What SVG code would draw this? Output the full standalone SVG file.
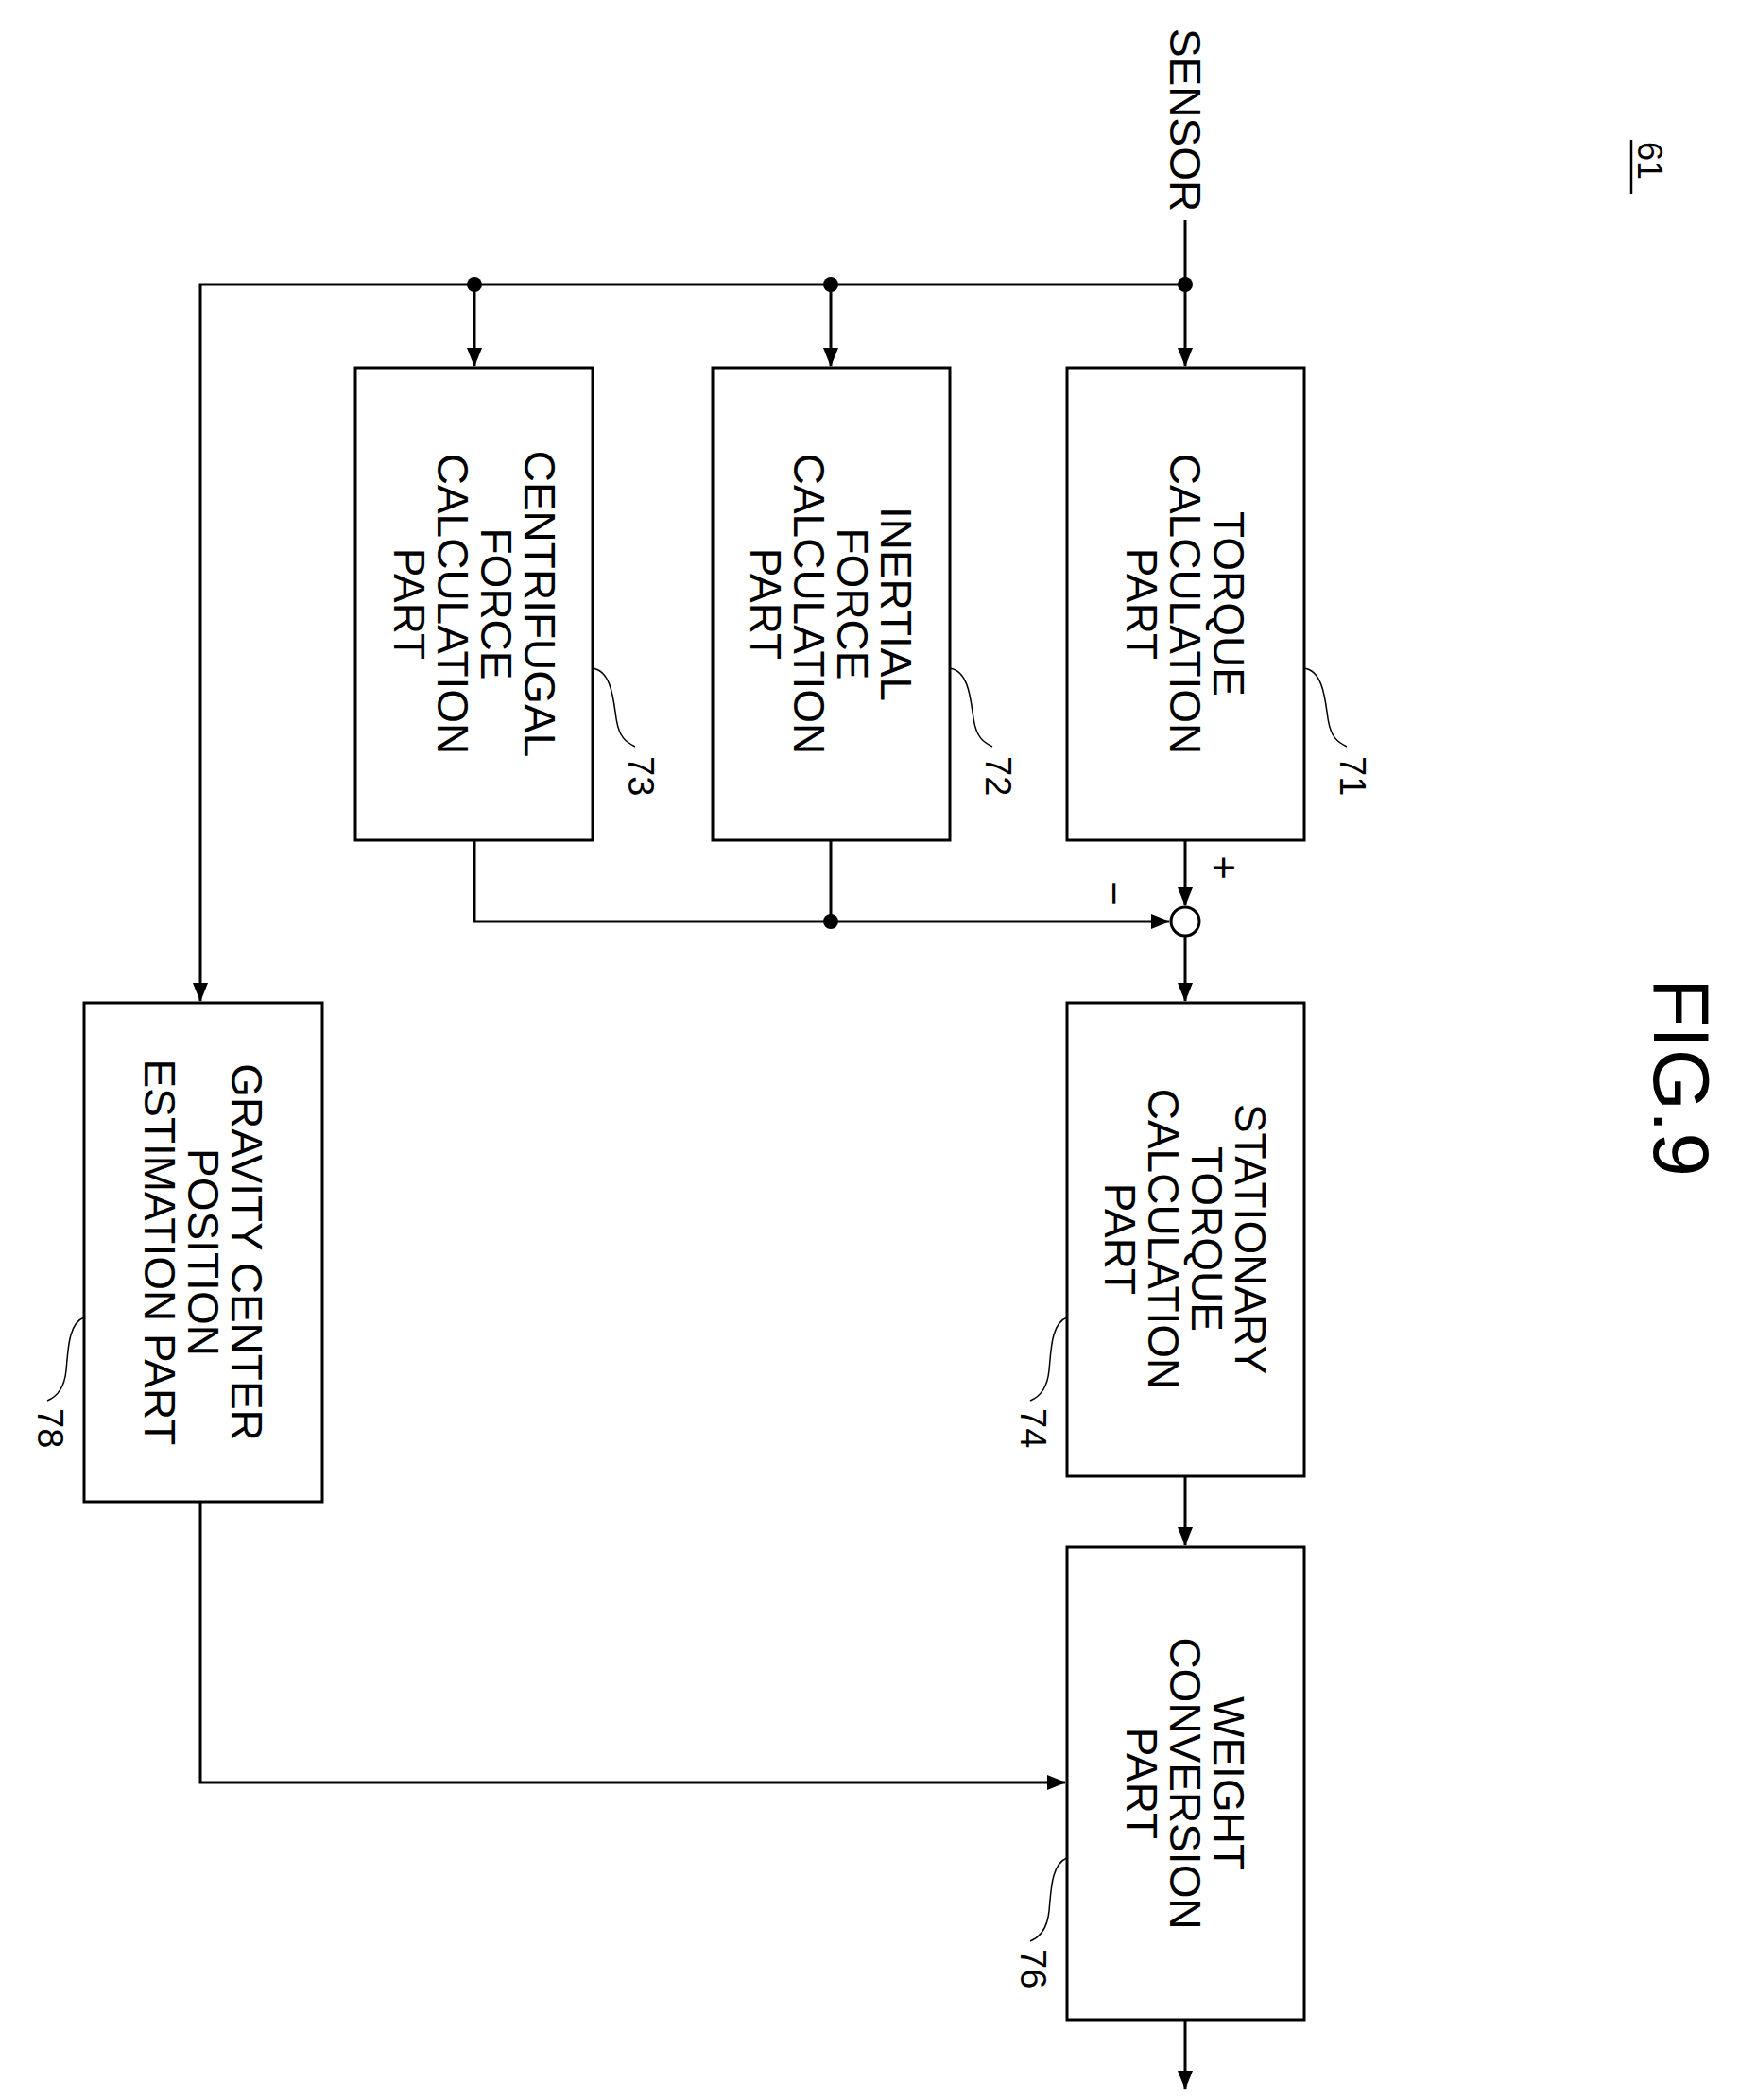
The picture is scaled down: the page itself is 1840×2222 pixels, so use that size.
<svg xmlns="http://www.w3.org/2000/svg" width="1840" height="2222" viewBox="0 0 1840 2222">
<style>
.b{fill:#fff;stroke:#000;stroke-width:3}
.l{fill:none;stroke:#000;stroke-width:3}
.t{font-family:"Liberation Sans",Arial,sans-serif;font-size:46px;text-anchor:middle}
.n{font-family:"Liberation Sans",Arial,sans-serif;font-size:38px}
.ld{fill:none;stroke:#000;stroke-width:1.5}
</style>
<defs><marker id="a" markerWidth="20" markerHeight="16" refX="19" refY="8" orient="auto" markerUnits="userSpaceOnUse" viewBox="0 0 20 16"><path d="M0,0 L20,8 L0,16 z"/></marker></defs>
<rect width="1840" height="2222" fill="#fff"/>
<g id="connectors">
<path class="l" d="M1254,233 V387" marker-end="url(#a)"/>
<path class="l" d="M1254,301 H212 V1059" marker-end="url(#a)"/>
<path class="l" d="M879,301 V387" marker-end="url(#a)"/>
<path class="l" d="M502,301 V387" marker-end="url(#a)"/>
<path class="l" d="M1254,889 V958" marker-end="url(#a)"/>
<path class="l" d="M502,889 V975 H1237" marker-end="url(#a)"/>
<path class="l" d="M879,889 V975"/>
<path class="l" d="M1254,990 V1059" marker-end="url(#a)"/>
<path class="l" d="M1254,1562 V1635" marker-end="url(#a)"/>
<path class="l" d="M1254,2137 V2210" marker-end="url(#a)"/>
<path class="l" d="M212,1589 V1886 H1127" marker-end="url(#a)"/>
<circle cx="1254" cy="301" r="8"/><circle cx="879" cy="301" r="8"/><circle cx="502" cy="301" r="8"/><circle cx="879" cy="975" r="8"/>
<circle cx="1254" cy="975" r="15" class="b"/>
<text class="n" transform="translate(1280,918) rotate(90)" text-anchor="middle" style="font-size:44px">+</text>
<text class="n" transform="translate(1164,945) rotate(90)" text-anchor="middle" style="font-size:44px">−</text>
</g>
<text class="t" transform="translate(1238,127) rotate(90)">SENSOR</text>
<g id="n71"><rect class="b" x="1129" y="389" width="251" height="500"/>
<text class="t" transform="translate(1254,639) rotate(90)"><tspan x="0" y="-30">TORQUE</tspan><tspan x="0" dy="46">CALCULATION</tspan><tspan x="0" dy="46">PART</tspan></text>
<path class="ld" d="M1380,707 C1400,710 1402,740 1405,760 C1408,780 1415,785 1425,790"/>
<text class="n" transform="translate(1418,800) rotate(90)">71</text></g>
<g id="n72"><rect class="b" x="754" y="389" width="251" height="500"/>
<text class="t" transform="translate(879,639) rotate(90)"><tspan x="0" y="-53">INERTIAL</tspan><tspan x="0" dy="46">FORCE</tspan><tspan x="0" dy="46">CALCULATION</tspan><tspan x="0" dy="46">PART</tspan></text>
<path class="ld" d="M1005,707 C1025,710 1027,740 1030,760 C1033,780 1040,785 1050,790"/>
<text class="n" transform="translate(1043,800) rotate(90)">72</text></g>
<g id="n73"><rect class="b" x="376" y="389" width="251" height="500"/>
<text class="t" transform="translate(502,639) rotate(90)"><tspan x="0" y="-53">CENTRIFUGAL</tspan><tspan x="0" dy="46">FORCE</tspan><tspan x="0" dy="46">CALCULATION</tspan><tspan x="0" dy="46">PART</tspan></text>
<path class="ld" d="M627,707 C647,710 649,740 652,760 C655,780 662,785 672,790"/>
<text class="n" transform="translate(665,800) rotate(90)">73</text></g>
<g id="n74"><rect class="b" x="1129" y="1061" width="251" height="501"/>
<text class="t" transform="translate(1254,1311) rotate(90)"><tspan x="0" y="-53">STATIONARY</tspan><tspan x="0" dy="46">TORQUE</tspan><tspan x="0" dy="46">CALCULATION</tspan><tspan x="0" dy="46">PART</tspan></text>
<path class="ld" d="M1129,1394 C1112,1400 1112,1430 1110,1450 C1108,1470 1100,1478 1090,1482"/>
<text class="n" transform="translate(1080,1490) rotate(90)">74</text></g>
<g id="n76"><rect class="b" x="1129" y="1637" width="251" height="500"/>
<text class="t" transform="translate(1254,1887) rotate(90)"><tspan x="0" y="-30">WEIGHT</tspan><tspan x="0" dy="46">CONVERSION</tspan><tspan x="0" dy="46">PART</tspan></text>
<path class="ld" d="M1129,1966 C1112,1972 1112,2002 1110,2022 C1108,2042 1100,2050 1090,2054"/>
<text class="n" transform="translate(1080,2062) rotate(90)">76</text></g>
<g id="n78"><rect class="b" x="89" y="1061" width="252" height="528"/>
<text class="t" transform="translate(215,1325) rotate(90)"><tspan x="0" y="-30">GRAVITY CENTER</tspan><tspan x="0" dy="46">POSITION</tspan><tspan x="0" dy="46">ESTIMATION PART</tspan></text>
<path class="ld" d="M89,1394 C72,1400 72,1430 70,1450 C68,1470 60,1478 50,1482"/>
<text class="n" transform="translate(40,1490) rotate(90)">78</text></g>
<text transform="translate(1750,1140) rotate(90)" text-anchor="middle" style="font-family:'Liberation Sans',Arial,sans-serif;font-size:84px">FIG.9</text>
<text transform="translate(1733,150) rotate(90)" style="font-family:'Liberation Sans',Arial,sans-serif;font-size:36px">61</text>
<line x1="1726" y1="148" x2="1726" y2="205" stroke="#000" stroke-width="2.5"/>
</svg>
